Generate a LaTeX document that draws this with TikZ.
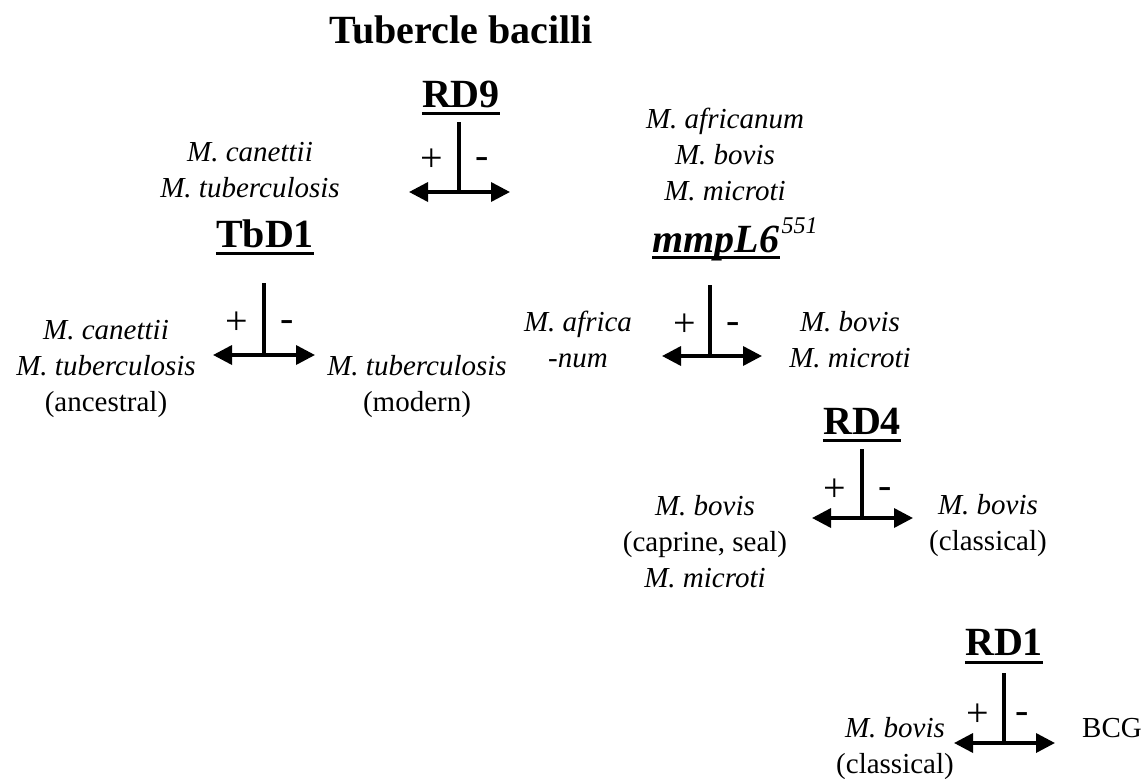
\documentclass[tikz,border=0pt]{standalone}
\usepackage{fontspec}
\setmainfont{Liberation Serif}
\usetikzlibrary{arrows.meta}
\begin{document}
\begin{tikzpicture}[x=1pt,y=-1pt,
  lbl/.style={font=\fontsize{40}{44}\selectfont\bfseries, inner sep=0pt, anchor=base},
  sp/.style={font=\fontsize{29}{36}\selectfont, align=center, inner sep=0pt, anchor=base},
  pm/.style={font=\fontsize{40}{44}\selectfont, inner sep=0pt, anchor=base},
  supnum/.style={font=\fontsize{24}{26}\selectfont\itshape, inner sep=0pt, anchor=base west},
  ul/.style={line width=3pt},
  stem/.style={line width=3.5pt},
  fork/.style={line width=3.5pt, {Triangle[length=19pt,width=19pt]}-{Triangle[length=19pt,width=19pt]}}
]
\useasboundingbox (0,0) rectangle (1146,779);

% title
\node[lbl] (title) at (461,43) {Tubercle bacilli};

% RD9
\node[lbl] (rd9) at (461,107) {RD9};
\draw[ul] ([yshift=-6pt]rd9.base west) -- ([yshift=-6pt]rd9.base east);
\coordinate (rd9t) at (459,122);
\coordinate (rd9j) at (459,192);
\coordinate (rd9a) at (409,192);
\coordinate (rd9b) at (510,192);
\draw[stem] (rd9t) -- (rd9j);
\draw[fork] (rd9a) -- (rd9b);
\node[pm] (rd9p) at (432,171) {+};
\node[pm] (rd9m) at (482,168) {-};
\node[sp] (rd9L) at (250,197) {\textit{M. canettii}\\\textit{M. tuberculosis}};
\node[sp] (rd9R) at (725,200) {\textit{M. africanum}\\\textit{M. bovis}\\\textit{M. microti}};

% TbD1
\node[lbl] (tbd1) at (265,247) {TbD1};
\draw[ul] ([yshift=-6pt]tbd1.base west) -- ([yshift=-6pt]tbd1.base east);
\coordinate (tbd1t) at (264,283);
\coordinate (tbd1j) at (264,355);
\coordinate (tbd1a) at (213,355);
\coordinate (tbd1b) at (315,355);
\draw[stem] (tbd1t) -- (tbd1j);
\draw[fork] (tbd1a) -- (tbd1b);
\node[pm] (tbd1p) at (237,334) {+};
\node[pm] (tbd1m) at (287,331) {-};
\node[sp] (tbd1L) at (106,411) {\textit{M. canettii}\\\textit{M. tuberculosis}\\(ancestral)};
\node[sp] (tbd1R) at (417,411) {\textit{M. tuberculosis}\\(modern)};

% mmpL6
\node[lbl, font=\fontsize{40}{44}\selectfont\bfseries\itshape] (mmp) at (716,252) {mmpL6};
\node[supnum] (mmps) at ([xshift=2pt,yshift=19pt]mmp.base east) {551};
\draw[ul] ([yshift=-5pt]mmp.base west) -- ([yshift=-5pt]mmp.base east);
\coordinate (mmpt) at (710,285);
\coordinate (mmpj) at (710,356);
\coordinate (mmpa) at (662,356);
\coordinate (mmpb) at (762,356);
\draw[stem] (mmpt) -- (mmpj);
\draw[fork] (mmpa) -- (mmpb);
\node[pm] (mmpp) at (685,336) {+};
\node[pm] (mmpm) at (733,333) {-};
\node[sp] (mmpL) at (578,367) {\textit{M. africa}\\\textit{-num}};
\node[sp] (mmpR) at (850,367) {\textit{M. bovis}\\\textit{M. microti}};

% RD4
\node[lbl] (rd4) at (862,434) {RD4};
\draw[ul] ([yshift=-6pt]rd4.base west) -- ([yshift=-6pt]rd4.base east);
\coordinate (rd4t) at (862,449);
\coordinate (rd4j) at (862,518);
\coordinate (rd4a) at (812,518);
\coordinate (rd4b) at (913,518);
\draw[stem] (rd4t) -- (rd4j);
\draw[fork] (rd4a) -- (rd4b);
\node[pm] (rd4p) at (835,501) {+};
\node[pm] (rd4m) at (885,498) {-};
\node[sp] (rd4L) at (705,587) {\textit{M. bovis}\\(caprine, seal)\\\textit{M. microti}};
\node[sp] (rd4R) at (988,550) {\textit{M. bovis}\\(classical)};

% RD1
\node[lbl] (rd1) at (1004,655) {RD1};
\draw[ul] ([yshift=-7pt]rd1.base west) -- ([yshift=-7pt]rd1.base east);
\coordinate (rd1t) at (1004,673);
\coordinate (rd1j) at (1004,743);
\coordinate (rd1a) at (954,743);
\coordinate (rd1b) at (1055,743);
\draw[stem] (rd1t) -- (rd1j);
\draw[fork] (rd1a) -- (rd1b);
\node[pm] (rd1p) at (978,726) {+};
\node[pm] (rd1m) at (1022,723) {-};
\node[sp] (rd1L) at (895,773) {\textit{M. bovis}\\(classical)};
\node[sp] (bcg) at (1112,737) {BCG};
\end{tikzpicture}
\end{document}
